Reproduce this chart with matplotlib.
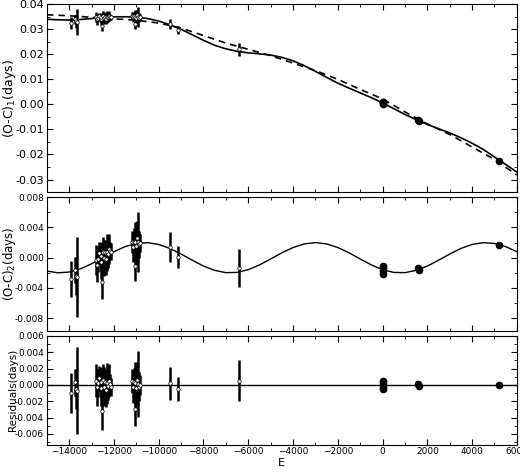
import numpy as np
import matplotlib
matplotlib.use('Agg')
import matplotlib.pyplot as plt
from matplotlib.ticker import MultipleLocator

# observed minima: epoch, (O-C)1, (O-C)2, residuals, error
epoch = [-13900, -13720, -13680, -13640,
         -12820, -12760, -12700, -12650, -12600, -12560, -12520, -12480, -12440,
         -12400, -12360, -12320, -12280, -12240, -12180, -12120,
         -11200, -11160, -11120, -11080, -11040, -11000, -10960, -10920, -10880, -10840,
         -9500, -9150, -6400,
         0, 0, 0, 0, 1580, 1640, 5200]
oc1 = [0.0326, 0.0340, 0.0332, 0.0330,
       0.0348, 0.0340, 0.0345, 0.0352, 0.0340, 0.0348, 0.0315, 0.0352, 0.0344,
       0.0350, 0.0342, 0.0350, 0.0348, 0.0354, 0.0350, 0.0348,
       0.0355, 0.0348, 0.0352, 0.0320, 0.0350, 0.0346, 0.0356, 0.0350, 0.0347, 0.0348,
       0.0320, 0.0297, 0.0220,
       0.0011, 0.0008, 0.0004, 0.0001, -0.0064, -0.0066, -0.0228]
oc2 = [-0.0028, -0.0016, -0.0024, -0.0026,
       -0.0003, -0.0009, -0.0002, 0.0006, -0.0006, 0.0002, -0.0032, 0.0007, 0.0000,
       0.0007, -0.0002, 0.0007, 0.0005, 0.0012, 0.0009, 0.0008,
       0.0021, 0.0014, 0.0021, -0.0011, 0.0021, 0.0015, 0.0026, 0.0021, 0.0018, 0.0019,
       0.0014, 0.0001, -0.0014,
       -0.0011, -0.0014, -0.0018, -0.0021, -0.0014, -0.0016, 0.0017]
res = [-0.0010, 0.0003, -0.0005, -0.0007,
       0.0005, -0.0003, 0.0002, 0.0008, -0.0004, 0.0003, -0.0032, 0.0006, -0.0002,
       0.0004, -0.0006, 0.0002, -0.0001, 0.0005, 0.0001, -0.0002,
       0.0005, -0.0002, 0.0003, -0.0030, 0.0002, -0.0004, 0.0006, 0.0001, -0.0002, 0.0000,
       0.0002, -0.0005, 0.0005,
       0.0005, 0.0002, -0.0002, -0.0005, 0.0001, -0.0001, 0.0000]
err = [0.0024, 0.0017, 0.0025, 0.0053,
       0.0020, 0.0023, 0.0017, 0.0015, 0.0022, 0.0019, 0.0023, 0.0020, 0.0024,
       0.0016, 0.0021, 0.0025, 0.0018, 0.0020, 0.0012, 0.0011,
       0.0015, 0.0020, 0.0018, 0.0020, 0.0026, 0.0024, 0.0022, 0.0040, 0.0018, 0.0012,
       0.0020, 0.0015, 0.0025,
       0.0002, 0.0002, 0.0002, 0.0002, 0.0002, 0.0002, 0.0002]

# fitted curves
fit_e = list(range(-15000, 6001, 500))
fit_full = [0.0340, 0.0338, 0.0337, 0.0339, 0.0343, 0.0347, 0.0350, 0.0350, 0.0349, 0.0343,
            0.0333, 0.0318, 0.0300, 0.0278, 0.0256, 0.0236, 0.0222, 0.0212, 0.0206, 0.0202,
            0.0197, 0.0188, 0.0174, 0.0155, 0.0132, 0.0108, 0.0085, 0.0065, 0.0046, 0.0027,
            0.0006, -0.0017, -0.0040, -0.0061, -0.0080, -0.0097, -0.0114, -0.0133, -0.0155,
            -0.0180, -0.0210, -0.0240, -0.0270]
fit_ltt = [-0.00176, -0.00199, -0.00189, -0.00147, -0.00080, 0.0, 0.00080, 0.00147, 0.00189,
           0.00199, 0.00176, 0.00123, 0.00049, -0.00033, -0.00110, -0.00167, -0.00197,
           -0.00194, -0.00158, -0.00095, -0.00016, 0.00065, 0.00135, 0.00183, 0.0020,
           0.00183, 0.00135, 0.00065, -0.00016, -0.00095, -0.00158, -0.00194, -0.00197,
           -0.00167, -0.00110, -0.00033, 0.00049, 0.00123, 0.00176, 0.00199, 0.00189,
           0.00147, 0.00080]
quad_e = list(range(-15000, 6001, 1000))
fit_quad = [0.0358, 0.0354, 0.0348, 0.0342, 0.0336, 0.0325, 0.0305, 0.0275, 0.0245, 0.0220,
            0.0195, 0.0165, 0.0135, 0.0100, 0.0060, 0.0022, -0.0030, -0.0078, -0.0120,
            -0.0170, -0.0220, -0.0282]

fig = plt.figure(figsize=(5.2, 4.73), dpi=100)
ax1 = fig.add_axes([0.09, 0.594, 0.904, 0.397])
ax2 = fig.add_axes([0.09, 0.300, 0.904, 0.283])
ax3 = fig.add_axes([0.09, 0.060, 0.904, 0.230])

ep = np.array(epoch)
small = np.array(err) < 0.001


def draw(ax, y):
    y = np.array(y)
    e = np.array(err)
    ax.errorbar(ep[~small], y[~small], yerr=e[~small], fmt='o', ms=2.5, mfc='white',
                mec='black', mew=0.5, ecolor='black', elinewidth=1.8, capsize=0)
    ax.errorbar(ep[small], y[small], yerr=e[small], fmt='o', ms=4.5, mfc='black',
                mec='black', ecolor='black', elinewidth=1.5, capsize=0)


ax1.plot(fit_e, fit_full, '-k', lw=1.2)
ax1.plot(quad_e, fit_quad, '--k', lw=1.2, dashes=(4, 3))
draw(ax1, oc1)
ax1.set_ylim(-0.035, 0.04)
ax1.yaxis.set_major_locator(MultipleLocator(0.01))
ax1.yaxis.set_minor_locator(MultipleLocator(0.005))
ax1.yaxis.set_major_formatter(plt.FuncFormatter(lambda v, p: f'{v:.2f}'))
ax1.set_ylabel('(O-C)$_1$(days)', fontsize=9)
ax1.tick_params(labelsize=8)

ax2.plot(fit_e, fit_ltt, '-k', lw=1.0)
draw(ax2, oc2)
ax2.set_ylim(-0.0097, 0.008)
ax2.yaxis.set_major_locator(MultipleLocator(0.004))
ax2.yaxis.set_minor_locator(MultipleLocator(0.002))
ax2.yaxis.set_major_formatter(plt.FuncFormatter(lambda v, p: f'{v:.3f}'))
ax2.set_ylabel('(O-C)$_2$(days)', fontsize=8.5)
ax2.tick_params(labelsize=6.5)

ax3.axhline(0, color='black', lw=1.0)
draw(ax3, res)
ax3.set_ylim(-0.0073, 0.006)
ax3.yaxis.set_major_locator(MultipleLocator(0.002))
ax3.yaxis.set_minor_locator(MultipleLocator(0.001))
ax3.yaxis.set_major_formatter(plt.FuncFormatter(lambda v, p: f'{v:.3f}'))
ax3.set_ylabel('Residuals(days)', fontsize=7.5)
ax3.set_xlabel('E', fontsize=8, labelpad=1)
ax3.tick_params(labelsize=6.5)

for ax in (ax1, ax2, ax3):
    ax.set_xlim(-15000, 6000)
    ax.xaxis.set_major_locator(MultipleLocator(2000))
    ax.xaxis.set_minor_locator(MultipleLocator(1000))
    ax.tick_params(which='both', direction='in', top=True, right=True, pad=2)
    ax.tick_params(which='major', length=4)
    ax.tick_params(which='minor', length=2)
    ax.yaxis.set_label_coords(-0.062, 0.5)
for ax in (ax1, ax2):
    ax.tick_params(labelbottom=False)

fig.savefig('out.png', dpi=100)
